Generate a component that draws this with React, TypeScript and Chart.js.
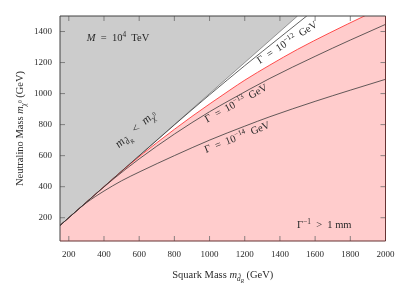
import { useEffect, useRef } from "react";
import { Chart, registerables } from "chart.js";

Chart.register(...registerables);

const FONT = "'Liberation Serif', 'DejaVu Serif', serif";

// Axis ranges and ticks
const X_MIN = 150;
const X_MAX = 2000;
const Y_MIN = 50;
const Y_MAX = 1500;
const xTicks = [200, 400, 600, 800, 1000, 1200, 1400, 1600, 1800, 2000];
const yTicks = [200, 400, 600, 800, 1000, 1200, 1400];

// Kinematic boundary m_dR = m_chi (grey region above)
const diagX = [150, 1500];
const diagY = [150, 1500];

// Gamma^-1 = 1 mm boundary (pink region below)
const redX = [150, 450, 550, 700, 900, 1116, 1201, 1343, 1500, 1684, 1880, 2000];
const redY = [150, 450, 547, 683, 853, 1023, 1087, 1184, 1285, 1392, 1500, 1564];

// Gamma = 1e-12 GeV
const g12X = [150, 800, 1000, 1200, 1400, 1552, 1600];
const g12Y = [150, 798, 992, 1180, 1362, 1500, 1543];

// Gamma = 1e-13 GeV
const g13X = [150, 300, 450, 600, 800, 1000, 1116, 1343, 1600, 1800, 2000];
const g13Y = [150, 300, 446, 579, 739, 883, 958, 1098, 1240, 1345, 1446];

// Gamma = 1e-14 GeV
const g14X = [150, 250, 300, 350, 400, 500, 605, 800, 1002, 1200, 1343, 1600, 1800, 2000];
const g14Y = [150, 250, 296, 336, 372, 438, 497, 600, 701, 790, 851, 950, 1022, 1092];

type Seg = { t: string; it?: boolean; s?: number; dy?: number };

const xTitle: Seg[] = [
  { t: "Squark Mass " },
  { t: "m", it: true },
  { t: "d\u0303", it: true, s: 0.7, dy: 0.25 },
  { t: "R", it: true, s: 0.5, dy: 0.45 },
  { t: " (GeV)" },
];
const yTitle: Seg[] = [
  { t: "Neutralino Mass " },
  { t: "m", it: true },
  { t: "\u03C7", it: true, s: 0.7, dy: 0.25 },
  { t: "0", s: 0.5, dy: -0.05 },
  { t: " (GeV)" },
];
const massLabel: Seg[] = [
  { t: "M", it: true },
  { t: "  =  10" },
  { t: "4", s: 0.7, dy: -0.4 },
  { t: "  TeV" },
];
const kinLabel: Seg[] = [
  { t: "m", it: true },
  { t: "d\u0303", it: true, s: 0.7, dy: 0.25 },
  { t: "R", it: true, s: 0.5, dy: 0.45 },
  { t: "  <  " },
  { t: "m", it: true },
  { t: "\u03C7", it: true, s: 0.7, dy: 0.25 },
  { t: "0", s: 0.5, dy: -0.05 },
];
const gammaLabel = (p: string): Seg[] => [
  { t: "\u0393  =  10" },
  { t: "\u2212" + p, s: 0.7, dy: -0.4 },
  { t: "  GeV" },
];
const decayLabel: Seg[] = [
  { t: "\u0393" },
  { t: "\u22121", s: 0.7, dy: -0.4 },
  { t: "  >  1 mm" },
];

const pts = (xs: number[], ys: number[]) => xs.map((x, i) => ({ x, y: ys[i] }));

function fontOf(sg: Seg, size: number) {
  return `${sg.it ? "italic " : ""}${(size * (sg.s || 1)).toFixed(2)}px ${FONT}`;
}

function drawRich(
  ctx: CanvasRenderingContext2D,
  segs: Seg[],
  x: number,
  y: number,
  size: number,
  angle: number,
  align: "left" | "center",
  vshift: number,
  color: string
) {
  ctx.save();
  ctx.translate(x, y);
  ctx.rotate(angle);
  ctx.translate(0, vshift);
  ctx.textBaseline = "alphabetic";
  ctx.textAlign = "left";
  ctx.fillStyle = color;
  let w = 0;
  const ws = segs.map((sg) => {
    ctx.font = fontOf(sg, size);
    const m = ctx.measureText(sg.t).width;
    w += m;
    return m;
  });
  let cx = align === "center" ? -w / 2 : 0;
  segs.forEach((sg, i) => {
    ctx.font = fontOf(sg, size);
    ctx.fillText(sg.t, cx, (sg.dy || 0) * size);
    cx += ws[i];
  });
  ctx.restore();
}

function interp(xs: number[], ys: number[], x: number) {
  for (let i = 0; i < xs.length - 1; i++) {
    if (x >= xs[i] && x <= xs[i + 1]) {
      const t = (x - xs[i]) / (xs[i + 1] - xs[i]);
      return ys[i] + t * (ys[i + 1] - ys[i]);
    }
  }
  return ys[ys.length - 1];
}

const overlayPlugin = {
  id: "overlay",
  afterDatasetsDraw(chart: any) {
    const { ctx, chartArea: a, scales } = chart;
    const sx = scales.x;
    const sy = scales.y;
    const TL = 5;
    ctx.save();
    ctx.lineWidth = 0.8;
    // inward ticks
    ctx.strokeStyle = "#6a6a6a";
    xTicks.forEach((v) => {
      const p = sx.getPixelForValue(v);
      ctx.beginPath();
      ctx.moveTo(p, a.bottom);
      ctx.lineTo(p, a.bottom - TL);
      ctx.moveTo(p, a.top);
      ctx.lineTo(p, a.top + TL);
      ctx.stroke();
    });
    yTicks.forEach((v) => {
      const p = sy.getPixelForValue(v);
      ctx.beginPath();
      ctx.moveTo(a.left, p);
      ctx.lineTo(a.left + TL, p);
      ctx.moveTo(a.right, p);
      ctx.lineTo(a.right - TL, p);
      ctx.stroke();
    });
    // frame
    ctx.lineWidth = 1;
    ctx.strokeStyle = "#404040";
    ctx.beginPath();
    ctx.moveTo(a.left, a.bottom);
    ctx.lineTo(a.left, a.top);
    ctx.lineTo(a.right, a.top);
    ctx.stroke();
    ctx.strokeStyle = "#663333";
    ctx.beginPath();
    ctx.moveTo(a.right, a.top);
    ctx.lineTo(a.right, a.bottom);
    ctx.lineTo(a.left, a.bottom);
    ctx.stroke();
    ctx.restore();

    const angleOf = (xs: number[], ys: number[], xd: number) => {
      const x1 = xd - 40;
      const x2 = xd + 40;
      const p1x = sx.getPixelForValue(x1);
      const p2x = sx.getPixelForValue(x2);
      const p1y = sy.getPixelForValue(interp(xs, ys, x1));
      const p2y = sy.getPixelForValue(interp(xs, ys, x2));
      return Math.atan2(p2y - p1y, p2x - p1x);
    };

    const txt = "#2a2a2a";
    const S = 10.5;
    // flat labels
    drawRich(ctx, massLabel, sx.getPixelForValue(302), sy.getPixelForValue(1339), S, 0, "left", 0, txt);
    drawRich(ctx, decayLabel, sx.getPixelForValue(1497), sy.getPixelForValue(134), S, 0, "left", 0, txt);
    // sloped labels
    drawRich(ctx, kinLabel, sx.getPixelForValue(580), sy.getPixelForValue(772), 12, angleOf(diagX, diagY, 580), "center", 3.5, txt);
    drawRich(ctx, gammaLabel("12"), sx.getPixelForValue(1440), sy.getPixelForValue(1332), S, (-33 * Math.PI) / 180, "center", 3.5, txt);
    drawRich(ctx, gammaLabel("13"), sx.getPixelForValue(1150), sy.getPixelForValue(939), S, angleOf(g13X, g13Y, 1150), "center", 3.5, txt);
    drawRich(ctx, gammaLabel("14"), sx.getPixelForValue(1156), sy.getPixelForValue(720), S, angleOf(g14X, g14Y, 1156), "center", 3.5, txt);
  },
  afterDraw(chart: any) {
    const { ctx, chartArea: a } = chart;
    const cx = (a.left + a.right) / 2;
    const cy = (a.top + a.bottom) / 2;
    drawRich(ctx, xTitle, cx, 278, 10.5, 0, "center", 0, "#2a2a2a");
    drawRich(ctx, yTitle, 23, cy, 10.5, -Math.PI / 2, "center", 0, "#2a2a2a");
  },
};

export default function App() {
  const ref = useRef<HTMLCanvasElement | null>(null);
  useEffect(() => {
    if (!ref.current) return;
    const lineDs = (xs: number[], ys: number[], color: string, width: number, extra: any = {}) => ({
      data: pts(xs, ys),
      borderColor: color,
      borderWidth: width,
      pointRadius: 0,
      fill: false,
      cubicInterpolationMode: "monotone",
      clip: 0,
      ...extra,
    });
    const chart = new Chart(ref.current, {
      type: "line",
      data: {
        datasets: [
          lineDs(g14X, g14Y, "#3a3a3a", 0.8, { order: 1 }),
          lineDs(g13X, g13Y, "#3a3a3a", 0.8, { order: 1 }),
          lineDs(g12X, g12Y, "#3a3a3a", 0.8, { order: 1 }),
          lineDs(redX, redY, "#ff3b3b", 0.9, { order: 5, fill: "start", backgroundColor: "#ffcccc" }),
          lineDs(diagX, diagY, "#707070", 0.7, { order: 6, fill: "end", backgroundColor: "#cccccc" }),
        ] as any,
      },
      options: {
        responsive: false,
        animation: false,
        devicePixelRatio: 1,
        events: [],
        layout: { padding: { left: 0, top: 16, right: 23.5, bottom: 0 } },
        plugins: { legend: { display: false }, tooltip: { enabled: false }, title: { display: false } },
        scales: {
          x: {
            type: "linear",
            min: X_MIN,
            max: X_MAX,
            afterBuildTicks: (s: any) => {
              s.ticks = xTicks.map((v) => ({ value: v }));
            },
            afterFit: (s: any) => {
              s.height = 45;
            },
            grid: { display: false, drawTicks: false },
            border: { display: false },
            ticks: {
              autoSkip: false,
              maxRotation: 0,
              minRotation: 0,
              padding: 8,
              color: "#2a2a2a",
              font: { family: FONT, size: 9 },
              callback: (v: any) => String(v),
            },
          },
          y: {
            type: "linear",
            min: Y_MIN,
            max: Y_MAX,
            afterBuildTicks: (s: any) => {
              s.ticks = yTicks.map((v) => ({ value: v }));
            },
            afterFit: (s: any) => {
              s.width = 60;
            },
            grid: { display: false, drawTicks: false },
            border: { display: false },
            ticks: {
              autoSkip: false,
              padding: 8,
              color: "#2a2a2a",
              font: { family: FONT, size: 9 },
              callback: (v: any) => String(v),
            },
          },
        },
      } as any,
      plugins: [overlayPlugin],
    });
    return () => chart.destroy();
  }, []);
  return (
    <div style={{ position: "fixed", left: 0, top: 0, width: 409, height: 286, background: "#fff" }}>
      <canvas ref={ref} width={409} height={286} style={{ display: "block", width: 409, height: 286 }} />
    </div>
  );
}
